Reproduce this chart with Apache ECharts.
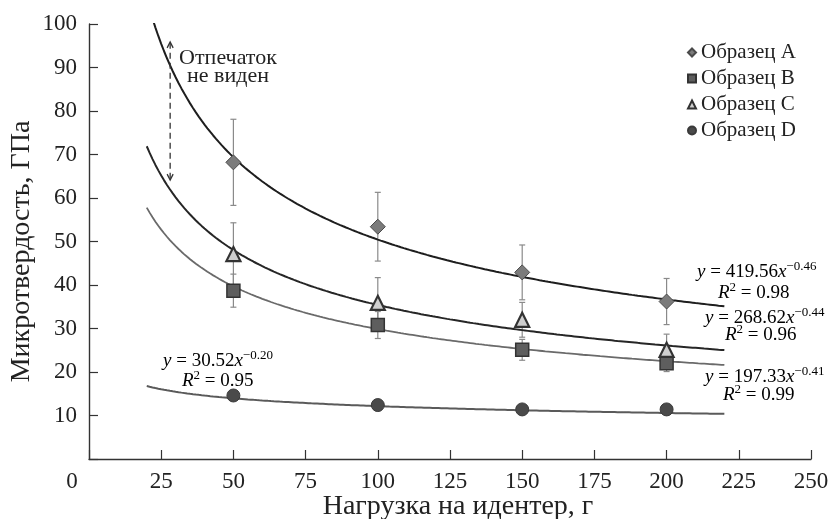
<!DOCTYPE html>
<html>
<head>
<meta charset="utf-8">
<script src="https://cdn.jsdelivr.net/npm/echarts@6/dist/echarts.min.js"></script>
<style>
  html, body { margin: 0; padding: 0; background: #fff; }
  #chart { width: 835px; height: 519px; }
</style>
</head>
<body>
<div id="chart"></div>
<script>
// Indentation load, g
const loads = [50, 100, 150, 200];

// Mean microhardness, GPa, and spread for each sample
const hardA = [68.2, 53.4, 42.9, 36.2];
const errA  = [9.9, 7.9, 6.3, 5.3];
const hardB = [38.7, 30.8, 25.1, 22.0];
const errB  = [3.8, 3.1, 2.4, 1.9];
const hardC = [47.1, 35.9, 32.0, 25.1];
const errC  = [7.2, 5.8, 4.0, 3.6];
const hardD = [14.6, 12.4, 11.4, 11.4];
const errD  = [1.0, 0.8, 0.6, 0.6];

const sampleNames = ['Образец A', 'Образец B', 'Образец C', 'Образец D'];

// Power-law trend lines y = a * x^b, as printed next to each curve
const fitCoef = [419.56, 197.33, 268.62, 30.52];
const fitExp  = [-0.46, -0.41, -0.44, -0.20];
const fitR2   = ['0.98', '0.99', '0.96', '0.95'];
const fitFrom = 20;
const fitTo   = 220;

// "Imprint not visible" marker: load and hardness span of the arrow
const arrowLoad = 28.1;
const arrowSpan = [64.1, 95.9];

const SERIF = '"Liberation Serif", "DejaVu Serif", serif';

function trendData(k) {
  const pts = [];
  for (let x = fitFrom; x <= fitTo; x += 1) {
    pts.push([x, fitCoef[k] * Math.pow(x, fitExp[k])]);
  }
  return pts;
}

function errorSeries(vals, errs, color) {
  return {
    type: 'custom',
    silent: true,
    z: 2,
    renderItem: function (params, api) {
      const x = api.value(0), lo = api.value(1), hi = api.value(2);
      const top = api.coord([x, hi]);
      const bot = api.coord([x, lo]);
      const w = 3;
      const st = { stroke: color, lineWidth: 1.2 };
      return {
        type: 'group',
        children: [
          { type: 'line', shape: { x1: top[0], y1: top[1], x2: bot[0], y2: bot[1] }, style: st },
          { type: 'line', shape: { x1: top[0] - w, y1: top[1], x2: top[0] + w, y2: top[1] }, style: st },
          { type: 'line', shape: { x1: bot[0] - w, y1: bot[1], x2: bot[0] + w, y2: bot[1] }, style: st }
        ]
      };
    },
    data: loads.map((x, i) => [x, vals[i] - errs[i], vals[i] + errs[i]])
  };
}

function trendSeries(k, color, width) {
  return {
    type: 'line',
    silent: true,
    showSymbol: false,
    symbol: 'none',
    smooth: false,
    z: 3,
    lineStyle: { color: color, width: width },
    data: trendData(k)
  };
}

function pointSeries(name, vals, symbol, size, fill, edge, edgeW) {
  return {
    name: name,
    type: 'scatter',
    symbol: symbol,
    symbolSize: size,
    z: 4,
    itemStyle: { color: fill, borderColor: edge, borderWidth: edgeW, opacity: 1 },
    data: loads.map((x, i) => [x, vals[i]])
  };
}

function eqText(k) {
  const a = fitCoef[k].toFixed(2);
  const b = '\u2212' + Math.abs(fitExp[k]).toFixed(2);
  return '{i|y}{n| = ' + a + '}{i|x}{s|' + b + '}';
}
function r2Text(k) {
  return '{i|R}{s|2}{n| = ' + fitR2[k] + '}';
}

const eqRich = {
  i: { fontFamily: SERIF, fontStyle: 'italic', fontSize: 19, color: '#222' },
  n: { fontFamily: SERIF, fontSize: 19, color: '#222' },
  s: { fontFamily: SERIF, fontSize: 13, color: '#222', padding: [0, 0, 11, 0] }
};

function eqGraphic(text, x, y) {
  return {
    type: 'text',
    x: x,
    y: y,
    style: {
      text: text,
      rich: eqRich,
      align: 'left',
      verticalAlign: 'middle'
    },
    z: 10
  };
}

const chart = echarts.init(document.getElementById('chart'), null, { renderer: 'canvas' });

chart.setOption({
  backgroundColor: '#fff',
  animation: false,
  grid: { left: 89, right: 24, top: 24, bottom: 60, containLabel: false, outerBoundsMode: 'none' },
  legend: {
    orient: 'vertical',
    left: 682,
    top: 37,
    itemWidth: 8,
    itemHeight: 8,
    itemGap: 5,
    data: sampleNames,
    textStyle: { fontFamily: SERIF, fontSize: 21, color: '#222', lineHeight: 19 }
  },
  xAxis: {
    type: 'value',
    min: 0,
    max: 250,
    interval: 25,
    name: 'Нагрузка на идентер, г',
    nameLocation: 'middle',
    nameGap: 34,
    nameMoveOverlap: false,
    nameTextStyle: { fontFamily: SERIF, fontSize: 28, color: '#222', padding: [0, 0, 0, 16] },
    axisLine: { show: true, onZero: false, lineStyle: { color: '#333', width: 1.4 } },
    axisTick: { show: true, inside: true, length: 9, lineStyle: { color: '#333', width: 1.2 } },
    axisLabel: {
      margin: 11,
      fontFamily: SERIF,
      fontSize: 23,
      color: '#222',
      formatter: v => (v === 0 ? '{o|0}' : String(v)),
      rich: { o: { fontFamily: SERIF, fontSize: 23, color: '#222', padding: [0, 34, 0, 0] } }
    },
    splitLine: { show: false }
  },
  yAxis: {
    type: 'value',
    min: 0,
    max: 100,
    interval: 10,
    name: 'Микротвердость, ГПа',
    nameLocation: 'middle',
    nameGap: 53,
    nameMoveOverlap: false,
    nameTextStyle: { fontFamily: SERIF, fontSize: 28, color: '#222', padding: [0, 20, 0, 0] },
    axisLine: { show: true, lineStyle: { color: '#333', width: 1.4 } },
    axisTick: { show: true, inside: true, length: 9, lineStyle: { color: '#333', width: 1.2 } },
    axisLabel: {
      margin: 12,
      fontFamily: SERIF,
      fontSize: 23,
      color: '#222',
      formatter: v => (v === 0 ? '' : String(v))
    },
    splitLine: { show: false }
  },
  series: [
    errorSeries(hardA, errA, '#8a8a8a'),
    errorSeries(hardC, errC, '#8a8a8a'),
    errorSeries(hardB, errB, '#8a8a8a'),
    errorSeries(hardD, errD, '#8a8a8a'),
    trendSeries(0, '#1e1e1e', 2),
    trendSeries(2, '#262626', 2),
    trendSeries(1, '#6a6a6a', 1.8),
    trendSeries(3, '#5a5a5a', 2),
    pointSeries(sampleNames[0], hardA, 'diamond', 15, '#7b7b7b', '#4a4a4a', 1),
    pointSeries(sampleNames[1], hardB, 'rect', 13, '#5e5e5e', '#333', 1.5),
    pointSeries(sampleNames[2], hardC, 'triangle', 14, '#cfcfcf', '#333', 2.2),
    pointSeries(sampleNames[3], hardD, 'circle', 13, '#4a4a4a', '#3a3a3a', 1),
    {
      type: 'custom',
      silent: true,
      z: 5,
      renderItem: function (params, api) {
        const x = api.value(0);
        const top = api.coord([x, api.value(2)]);
        const bot = api.coord([x, api.value(1)]);
        const st = { stroke: '#333', lineWidth: 1.3, fill: null };
        return {
          type: 'group',
          children: [
            { type: 'line', shape: { x1: top[0], y1: top[1] + 1, x2: bot[0], y2: bot[1] - 1 },
              style: { stroke: '#333', lineWidth: 1.3, lineDash: [6, 4] } },
            { type: 'polyline', shape: { points: [[top[0] - 3, top[1] + 6], [top[0], top[1]], [top[0] + 3, top[1] + 6]] }, style: st },
            { type: 'polyline', shape: { points: [[bot[0] - 3, bot[1] - 6], [bot[0], bot[1]], [bot[0] + 3, bot[1] - 6]] }, style: st }
          ]
        };
      },
      data: [[arrowLoad, arrowSpan[0], arrowSpan[1]]]
    }
  ],
  graphic: [
    {
      type: 'text',
      x: 228,
      y: 67,
      z: 10,
      style: {
        text: 'Отпечаток\nне виден',
        fontFamily: SERIF,
        fontSize: 22,
        lineHeight: 18,
        fill: '#222',
        align: 'center',
        verticalAlign: 'middle'
      }
    },
    eqGraphic(eqText(0), 697, 272),
    eqGraphic(r2Text(0), 718, 293),
    eqGraphic(eqText(2), 705, 318),
    eqGraphic(r2Text(2), 725, 335),
    eqGraphic(eqText(1), 705, 377),
    eqGraphic(r2Text(1), 723, 395),
    eqGraphic(eqText(3), 163, 361),
    eqGraphic(r2Text(3), 182, 381)
  ]
});
</script>
</body>
</html>
